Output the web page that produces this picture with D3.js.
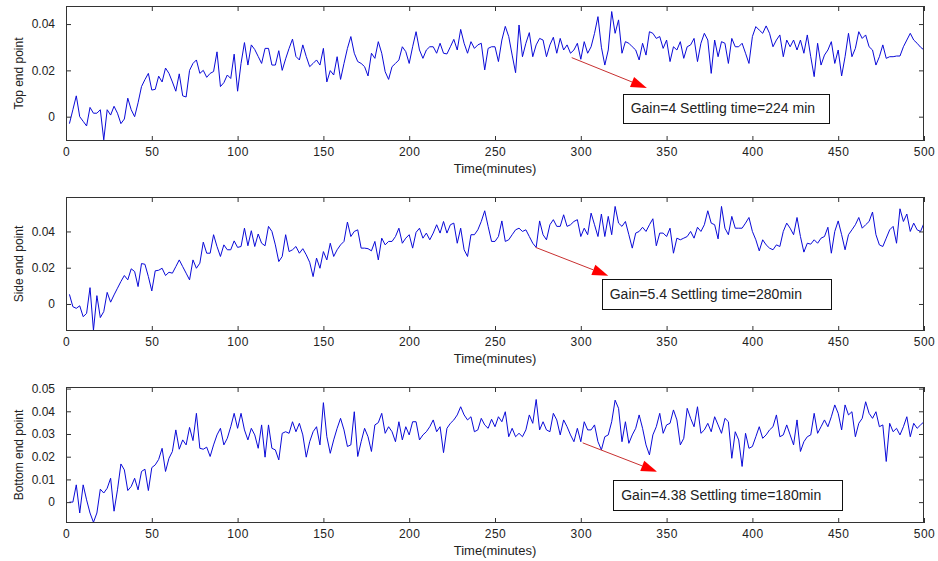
<!DOCTYPE html>
<html>
<head>
<meta charset="utf-8">
<script src="https://cdn.jsdelivr.net/npm/d3@7"></script>
<style>
    body { margin: 0; background: #fff; }
    text { font-family: Arial, "Liberation Sans", sans-serif; fill: #222; }
</style>
</head>
<body>
<svg id="chart" width="938" height="561"></svg>
<script>
// samples are every 2 minutes, first one at t = 2
var sampleStep = 2;

var topValues = [
    -0.003, 0.003, 0.009, 0.000, -0.002, -0.004, 0.004, 0.0015, 0.0015, 0.003,
    -0.010, 0.003, 0.0007, 0.0045, 0.0015, -0.003, -0.001, 0.008, 0.003, 0.000,
    0.006, 0.013, 0.016, 0.0187, 0.0115, 0.0118, 0.0175, 0.015, 0.021, 0.0187,
    0.015, 0.011, 0.0185, 0.009, 0.0085, 0.020, 0.023, 0.0245, 0.0187, 0.020,
    0.017, 0.0187, 0.0195, 0.028, 0.013, 0.0147, 0.018, 0.0165, 0.027, 0.011,
    0.023, 0.032, 0.0223, 0.031, 0.029, 0.026, 0.023, 0.0295, 0.0295, 0.0223,
    0.0223, 0.0285, 0.020, 0.025, 0.0295, 0.0335, 0.026, 0.0245, 0.031, 0.026,
    0.0216, 0.023, 0.0245, 0.0223, 0.0295, 0.015, 0.0199, 0.018, 0.0259, 0.0161,
    0.023, 0.0295, 0.0346, 0.0274, 0.0238, 0.023, 0.0216, 0.0176, 0.0274, 0.0252,
    0.0324, 0.0274, 0.0194, 0.0161, 0.0216, 0.023, 0.0245, 0.0302, 0.0281, 0.023,
    0.0302, 0.0367, 0.0288, 0.0252, 0.0288, 0.0302, 0.0302, 0.0274, 0.0317, 0.0274,
    0.0271, 0.0302, 0.0334, 0.0288, 0.0377, 0.0317, 0.0274, 0.0324, 0.0295, 0.031,
    0.0317, 0.0202, 0.0295, 0.0302, 0.0302, 0.0238, 0.0331, 0.039, 0.0346, 0.0266,
    0.019, 0.0396, 0.0259, 0.0317, 0.0363, 0.0259, 0.031, 0.0338, 0.0331, 0.0259,
    0.031, 0.0343, 0.0274, 0.0338, 0.0288, 0.031, 0.0274, 0.0288, 0.0317, 0.0248,
    0.0324, 0.0274, 0.0302, 0.036, 0.0432, 0.030, 0.0223, 0.0288, 0.0454, 0.036,
    0.0418, 0.0274, 0.0324, 0.0317, 0.0302, 0.0288, 0.0245, 0.0317, 0.0266, 0.0367,
    0.036, 0.0338, 0.0346, 0.0295, 0.0331, 0.0238, 0.0302, 0.0288, 0.0324, 0.0252,
    0.0302, 0.031, 0.0338, 0.0238, 0.0317, 0.036, 0.0331, 0.0187, 0.0331, 0.0259,
    0.0324, 0.0317, 0.023, 0.0338, 0.0302, 0.0302, 0.0317, 0.0274, 0.023, 0.0346,
    0.0389, 0.0374, 0.036, 0.0392, 0.036, 0.0302, 0.0331, 0.0353, 0.0259, 0.0331,
    0.0302, 0.0331, 0.0288, 0.0331, 0.0274, 0.0353, 0.0259, 0.0173, 0.0317, 0.0223,
    0.0266, 0.0288, 0.0324, 0.023, 0.0288, 0.0176, 0.0259, 0.036, 0.0259, 0.0295,
    0.0367, 0.0338, 0.0353, 0.0302, 0.0288, 0.0223, 0.0259, 0.031, 0.0252, 0.0259,
    0.0259, 0.0262, 0.0262, 0.0302, 0.0331, 0.036, 0.0331, 0.0317, 0.030, 0.0288
];

var sideValues = [
    0.0053, -0.0015, -0.0024, -0.001, -0.007, -0.0052, 0.009, -0.0145, 0.0046, -0.0075,
    -0.0042, 0.0064, 0.001, 0.005, 0.0087, 0.0124, 0.0157, 0.0133, 0.0194, 0.0179,
    0.0096, 0.0223, 0.0219, 0.0151, 0.0072, 0.0183, 0.0186, 0.0197, 0.0157, 0.0175,
    0.017, 0.0206, 0.0243, 0.0206, 0.017, 0.0133, 0.0243, 0.0197, 0.0225, 0.0341,
    0.028, 0.028, 0.0382, 0.0317, 0.0262, 0.0326, 0.0299, 0.0299, 0.0348, 0.0312,
    0.0317, 0.0418, 0.0321, 0.0404, 0.0317, 0.0386, 0.0335, 0.0321, 0.0428, 0.040,
    0.0326, 0.0234, 0.0262, 0.0382, 0.0289, 0.0299, 0.0317, 0.028, 0.0305, 0.0271,
    0.0230, 0.0151, 0.0253, 0.0197, 0.0289, 0.0243, 0.0335, 0.0262, 0.0299, 0.0326,
    0.0345, 0.0452, 0.0372, 0.040, 0.0409, 0.0308, 0.0308, 0.0305, 0.0293, 0.0345,
    0.0243, 0.0363, 0.0326, 0.0345, 0.0345, 0.0372, 0.0418, 0.0335, 0.0363, 0.0382,
    0.0308, 0.0395, 0.0418, 0.0363, 0.0391, 0.0354, 0.0391, 0.0437, 0.0391, 0.0455,
    0.0391, 0.0437, 0.0446, 0.0335, 0.0418, 0.0299, 0.0262, 0.0382, 0.0382, 0.0409,
    0.0455, 0.0514, 0.0428, 0.0345, 0.0345, 0.0372, 0.0458, 0.0345, 0.0354, 0.0382,
    0.0409, 0.0418, 0.040, 0.0409, 0.0372, 0.0335, 0.0312, 0.0458, 0.0382, 0.0354,
    0.0437, 0.0465, 0.0428, 0.0428, 0.0492, 0.0428, 0.0437, 0.0455, 0.0465, 0.0372,
    0.0418, 0.0382, 0.0501, 0.0437, 0.0372, 0.0496, 0.0372, 0.0483, 0.0382, 0.0538,
    0.0446, 0.0428, 0.0455, 0.0382, 0.0308, 0.0391, 0.040, 0.0423, 0.040, 0.0437,
    0.0470, 0.0321, 0.0391, 0.0391, 0.0372, 0.0418, 0.028, 0.0363, 0.0354, 0.0363,
    0.0372, 0.040, 0.0363, 0.0423, 0.040, 0.0437, 0.0514, 0.0446, 0.0437, 0.0359,
    0.0538, 0.0418, 0.0382, 0.0483, 0.0418, 0.0418, 0.0418, 0.0446, 0.0477, 0.040,
    0.0354, 0.0293, 0.0354, 0.0326, 0.0308, 0.0299, 0.0326, 0.0317, 0.040, 0.0446,
    0.0418, 0.0382, 0.0477, 0.0372, 0.0286, 0.0335, 0.033, 0.0354, 0.0335, 0.0363,
    0.0372, 0.0423, 0.028, 0.040, 0.0458, 0.0382, 0.0299, 0.0382, 0.0409, 0.0437,
    0.0477, 0.0418, 0.0437, 0.0455, 0.0507, 0.0382, 0.0326, 0.0317, 0.0363, 0.0409,
    0.0428, 0.0335, 0.0525, 0.0455, 0.0496, 0.040, 0.0446, 0.0409, 0.040, 0.0446
];

var bottomValues = [
    0.0, 0.0, 0.0076, -0.0048, 0.0076, 0.001, -0.0048, -0.0089, -0.0048, 0.0057,
    0.004, 0.0061, 0.0105, -0.004, 0.0054, 0.0168, 0.0142, 0.0051, 0.0069, 0.0105,
    0.0054, 0.0135, 0.0145, 0.0051, 0.0152, 0.0164, 0.0188, 0.0237, 0.0135, 0.0193,
    0.0223, 0.0318, 0.0233, 0.0274, 0.0252, 0.0329, 0.0271, 0.0391, 0.0237, 0.0233,
    0.0242, 0.0201, 0.0252, 0.0296, 0.0325, 0.0252, 0.0281, 0.0332, 0.0391, 0.0325,
    0.0391, 0.0318, 0.0274, 0.0325, 0.0296, 0.0237, 0.034, 0.0198, 0.034, 0.0237,
    0.023, 0.0186, 0.0303, 0.031, 0.0303, 0.0354, 0.031, 0.0347, 0.0296, 0.0198,
    0.0266, 0.031, 0.0332, 0.0252, 0.0438, 0.0288, 0.0215, 0.0274, 0.0325, 0.0369,
    0.0318, 0.0245, 0.0252, 0.0398, 0.0201, 0.0266, 0.0325, 0.0288, 0.0223, 0.034,
    0.035, 0.0391, 0.0303, 0.0332, 0.031, 0.0266, 0.0354, 0.0274, 0.0332, 0.0296,
    0.0354, 0.0354, 0.0274, 0.0296, 0.031, 0.0332, 0.0362, 0.031, 0.0332, 0.0218,
    0.0325, 0.0347, 0.0362, 0.0384, 0.042, 0.0384, 0.0362, 0.0376, 0.031, 0.0318,
    0.0369, 0.034, 0.0325, 0.0365, 0.0332, 0.0376, 0.0354, 0.0398, 0.0288, 0.0325,
    0.0288, 0.0303, 0.0288, 0.0318, 0.0384, 0.0347, 0.0452, 0.0318, 0.0354, 0.0318,
    0.031, 0.0391, 0.0362, 0.0296, 0.0362, 0.0332, 0.0296, 0.0266, 0.0325, 0.0266,
    0.0354, 0.0318, 0.0318, 0.034, 0.0266, 0.023, 0.0288, 0.0296, 0.0354, 0.0449,
    0.0413, 0.0266, 0.0354, 0.0259, 0.0296, 0.0325, 0.0384, 0.0325, 0.0252, 0.0208,
    0.0296, 0.0332, 0.0391, 0.0303, 0.034, 0.0347, 0.0406, 0.0362, 0.0252, 0.0281,
    0.0413, 0.0369, 0.0332, 0.042, 0.0303, 0.0318, 0.0347, 0.031, 0.0376, 0.034,
    0.0303, 0.0369, 0.0354, 0.0193, 0.031, 0.0274, 0.0157, 0.0303, 0.0237, 0.0245,
    0.0288, 0.0332, 0.0281, 0.0296, 0.0318, 0.0332, 0.0384, 0.0288, 0.0296, 0.034,
    0.0296, 0.0252, 0.0362, 0.0223, 0.0266, 0.0288, 0.0296, 0.0391, 0.0303, 0.0332,
    0.0362, 0.0332, 0.0376, 0.0428, 0.0391, 0.0318, 0.0428, 0.0384, 0.0398, 0.0288,
    0.0347, 0.0369, 0.0442, 0.0391, 0.0369, 0.0398, 0.0332, 0.034, 0.0179, 0.0347,
    0.031, 0.0325, 0.0296, 0.0332, 0.0376, 0.0288, 0.0347, 0.0325, 0.034, 0.0354
];

var xTicks = [0, 50, 100, 150, 200, 250, 300, 350, 400, 450, 500];
var xLimits = [0, 500];
var xTitle = "Time(minutes)";

var panelNames = ["Top end point", "Side end point", "Bottom end point"];
var yLimits = [[-0.0105, 0.0478], [-0.0149, 0.059], [-0.0092, 0.0507]];
var yTicks = [
    [0, 0.02, 0.04],
    [0, 0.02, 0.04],
    [0, 0.01, 0.02, 0.03, 0.04, 0.05]
];

// annotations in data units: arrow [t0, v0, t1, v1], box [tLeft, vTop, tRight, vBottom]
var noteTexts = ["Gain=4 Settling time=224 min", "Gain=5.4 Settling time=280min", "Gain=4.38 Settling time=180min"];
var noteArrows = [[294.7, 0.0255, 338.5, 0.0124], [273.7, 0.0312, 316.0, 0.0156], [301.1, 0.0261, 344.5, 0.0134]];
var noteBoxes = [[324.4, 0.0099, 444.2, -0.0026], [312.2, 0.0139, 445.6, -0.0028], [318.9, 0.0098, 452.3, -0.0034]];

var series = [topValues, sideValues, bottomValues];

// ---- layout ----
var svg = d3.select("#chart");
var plotLeft = 66, plotRight = 924;
var panelTop = [6, 197, 387];
var panelBottom = [141, 331, 523];
var tickLen = 5;

var x = d3.scaleLinear().domain(xLimits).range([plotLeft, plotRight]);

function fmtTick(d) {
    return d === 0 ? "0" : d3.format(".2f")(d);
}

series.forEach(function (values, p) {
    var y = d3.scaleLinear().domain(yLimits[p]).range([panelBottom[p], panelTop[p]]);
    var g = svg.append("g").attr("class", "panel");

    // clip so the trace stays inside the frame
    g.append("clipPath").attr("id", "clip" + p)
        .append("rect")
        .attr("x", plotLeft).attr("y", panelTop[p])
        .attr("width", plotRight - plotLeft).attr("height", panelBottom[p] - panelTop[p]);

    var line = d3.line()
        .x(function (d, i) { return x((i + 1) * sampleStep); })
        .y(function (d) { return y(d); });

    g.append("path")
        .datum(values)
        .attr("clip-path", "url(#clip" + p + ")")
        .attr("fill", "none")
        .attr("stroke", "#0a0ad8")
        .attr("stroke-width", 1)
        .attr("stroke-linejoin", "round")
        .attr("d", line);

    // axes, matlab style: ticks pointing inward on all four sides
    var bottomAxis = g.append("g")
        .attr("transform", "translate(0," + panelBottom[p] + ")")
        .call(d3.axisBottom(x).tickValues(xTicks).tickSize(-tickLen).tickPadding(6).tickFormat(d3.format("d")));
    var topAxis = g.append("g")
        .attr("transform", "translate(0," + panelTop[p] + ")")
        .call(d3.axisTop(x).tickValues(xTicks).tickSize(-tickLen).tickFormat(""));
    var leftAxis = g.append("g")
        .attr("transform", "translate(" + plotLeft + ",0)")
        .call(d3.axisLeft(y).tickValues(yTicks[p]).tickSize(-tickLen).tickPadding(11).tickFormat(fmtTick));
    var rightAxis = g.append("g")
        .attr("transform", "translate(" + plotRight + ",0)")
        .call(d3.axisRight(y).tickValues(yTicks[p]).tickSize(-tickLen).tickFormat(""));

    [bottomAxis, topAxis, leftAxis, rightAxis].forEach(function (a) {
        a.select(".domain").remove();
        a.selectAll("line").attr("stroke", "#333");
        a.selectAll("text").attr("font-size", 12).attr("fill", "#222")
            .style("font-family", "Arial, 'Liberation Sans', sans-serif");
    });
    bottomAxis.selectAll("text").attr("letter-spacing", "0.5px");

    g.append("rect")
        .attr("x", plotLeft + 0.5).attr("y", panelTop[p] + 0.5)
        .attr("width", plotRight - plotLeft - 1).attr("height", panelBottom[p] - panelTop[p] - 1)
        .attr("fill", "none").attr("stroke", "#333").attr("stroke-width", 1);

    g.append("text")
        .attr("x", (plotLeft + plotRight) / 2)
        .attr("y", panelBottom[p] + 32)
        .attr("text-anchor", "middle")
        .attr("font-size", 13)
        .text(xTitle);

    g.append("text")
        .attr("transform", "translate(23," + (panelTop[p] + panelBottom[p]) / 2 + ") rotate(-90)")
        .attr("text-anchor", "middle")
        .attr("font-size", 12)
        .text(panelNames[p]);

    // arrow
    var a = noteArrows[p];
    var x0 = x(a[0]), y0 = y(a[1]), x1 = x(a[2]), y1 = y(a[3]);
    var ang = Math.atan2(y1 - y0, x1 - x0);
    var headLen = 16, headHalf = 5.5;
    var bx = x1 - headLen * Math.cos(ang), by = y1 - headLen * Math.sin(ang);
    g.append("line")
        .attr("x1", x0).attr("y1", y0).attr("x2", bx).attr("y2", by)
        .attr("stroke", "#c83030").attr("stroke-width", 1);
    g.append("polygon")
        .attr("points", [
            [x1, y1],
            [bx + headHalf * Math.sin(ang), by - headHalf * Math.cos(ang)],
            [bx - headHalf * Math.sin(ang), by + headHalf * Math.cos(ang)]
        ].map(function (pt) { return pt.join(","); }).join(" "))
        .attr("fill", "#ff0000");

    // text box
    var b = noteBoxes[p];
    var rx = x(b[0]), ry = y(b[1]), rw = x(b[2]) - x(b[0]), rh = y(b[3]) - y(b[1]);
    g.append("rect")
        .attr("x", Math.round(rx) + 0.5).attr("y", Math.round(ry) + 0.5)
        .attr("width", Math.round(rw)).attr("height", Math.round(rh))
        .attr("fill", "#fff").attr("stroke", "#111").attr("stroke-width", 1);
    g.append("text")
        .attr("x", rx + 8)
        .attr("y", ry + rh / 2)
        .attr("dy", "0.36em")
        .attr("font-size", 14)
        .text(noteTexts[p]);
});
</script>
</body>
</html>
